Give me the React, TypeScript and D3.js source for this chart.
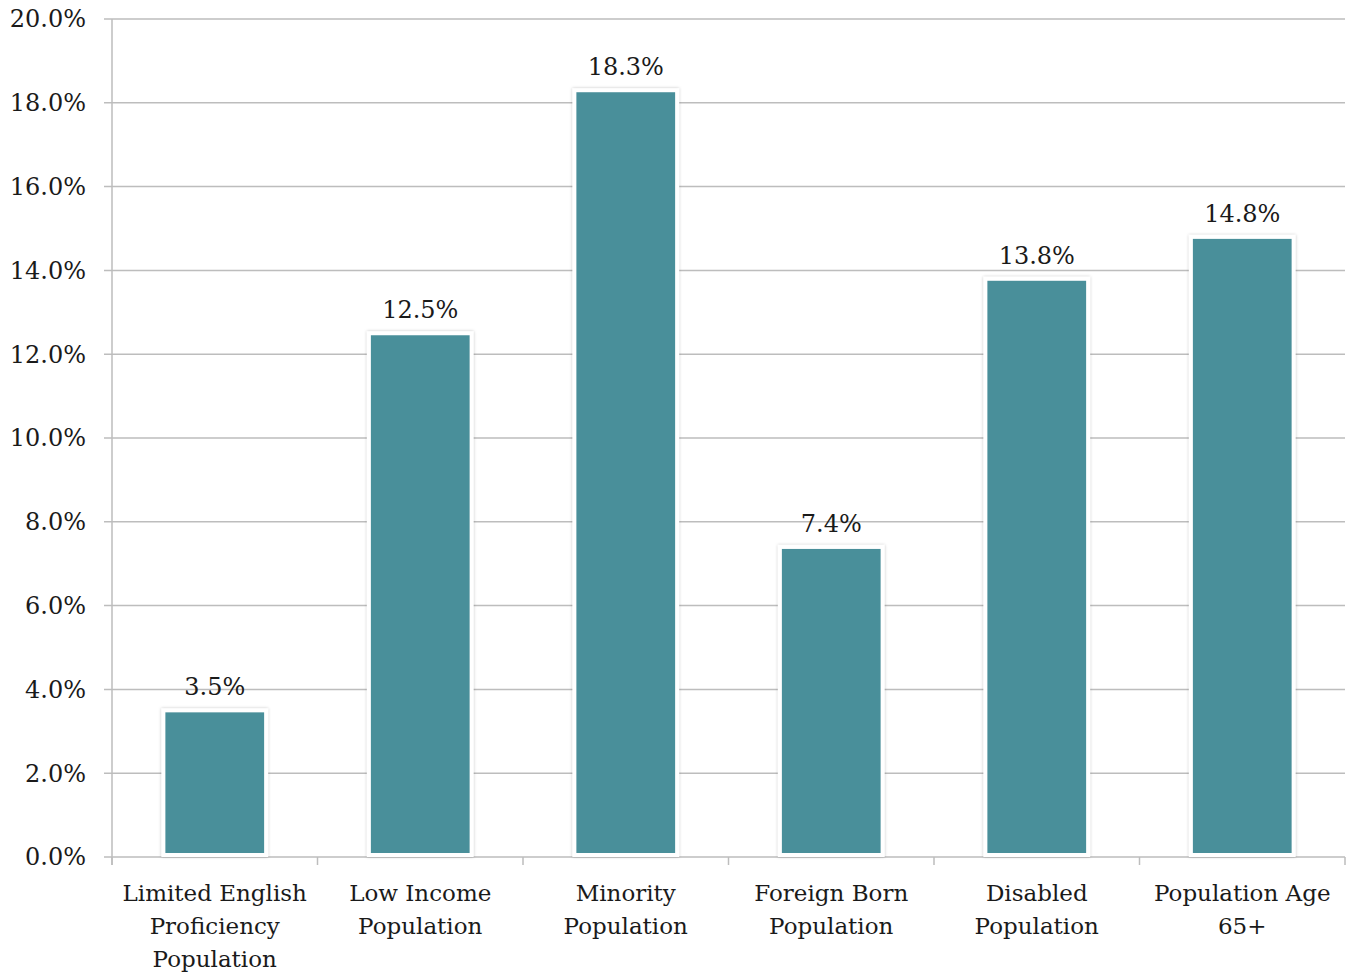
import React from "react";
import * as d3 from "d3";

// Share of residents in each population group (percent)
const categories: string[][] = [
  ["Limited English", "Proficiency", "Population"],
  ["Low Income", "Population"],
  ["Minority", "Population"],
  ["Foreign Born", "Population"],
  ["Disabled", "Population"],
  ["Population Age", "65+"],
];
const values: number[] = [3.5, 12.5, 18.3, 7.4, 13.8, 14.8];
const yTicks: number[] = [0, 2, 4, 6, 8, 10, 12, 14, 16, 18, 20];

const W = 1350;
const H = 975;
const margin = { left: 112, right: 5, top: 19, bottom: 118 };
const FONT = "'DejaVu Serif', 'Liberation Serif', serif";
const BAR = "#4a8f9a";
const GRID = "#bdbdbd";
const INK = "#1a1a1a";

export default function App() {
  const x = d3
    .scaleBand<number>()
    .domain(d3.range(values.length))
    .range([margin.left, W - margin.right])
    .paddingInner(0.5)
    .paddingOuter(0.25);
  const y = d3.scaleLinear().domain([0, 20]).range([H - margin.bottom, margin.top]);
  const step = x.step();
  const x0 = margin.left;
  const x1 = W - margin.right;

  return (
    <svg
      width={W}
      height={H}
      style={{ position: "absolute", left: 0, top: 0, background: "#fff" }}
      fontFamily={FONT}
    >
      <defs>
        <filter id="barShadow" x="-10%" y="-10%" width="120%" height="120%">
          <feDropShadow dx="0" dy="0" stdDeviation="1.5" floodColor="#000" floodOpacity="0.25" />
        </filter>
      </defs>

      {/* horizontal gridlines and y tick labels */}
      {yTicks.map((t) => (
        <g key={t}>
          <line x1={x0 - 8} x2={x1} y1={y(t)} y2={y(t)} stroke={GRID} strokeWidth={1.5} />
          <text
            x={x0 - 26}
            y={y(t)}
            dy="0.35em"
            textAnchor="end"
            fontSize={24}
            fill={INK}
          >
            {t.toFixed(1)}%
          </text>
        </g>
      ))}

      {/* vertical axis */}
      <line x1={x0} x2={x0} y1={y(20)} y2={y(0) + 8} stroke={GRID} strokeWidth={1.5} />

      {/* category separator ticks */}
      {d3.range(values.length + 1).map((i) => (
        <line
          key={i}
          x1={x0 + i * step}
          x2={x0 + i * step}
          y1={y(0)}
          y2={y(0) + 8}
          stroke={GRID}
          strokeWidth={1.5}
        />
      ))}

      {/* bars */}
      {values.map((v, i) => (
        <rect
          key={i}
          x={x(i)!}
          y={y(v)}
          width={x.bandwidth()}
          height={y(0) - y(v) - 2}
          fill={BAR}
          stroke="#fff"
          strokeWidth={4}
          filter="url(#barShadow)"
        />
      ))}

      {/* value labels */}
      {values.map((v, i) => (
        <text
          key={i}
          x={x(i)! + x.bandwidth() / 2}
          y={y(v) - 15}
          textAnchor="middle"
          fontSize={24}
          fill={INK}
        >
          {v.toFixed(1)}%
        </text>
      ))}

      {/* category labels */}
      {categories.map((lines, i) => (
        <text
          key={i}
          x={x(i)! + x.bandwidth() / 2}
          y={y(0) + 44}
          textAnchor="middle"
          fontSize={23}
          fill={INK}
        >
          {lines.map((l, j) => (
            <tspan key={j} x={x(i)! + x.bandwidth() / 2} dy={j === 0 ? 0 : 33}>
              {l}
            </tspan>
          ))}
        </text>
      ))}
    </svg>
  );
}
